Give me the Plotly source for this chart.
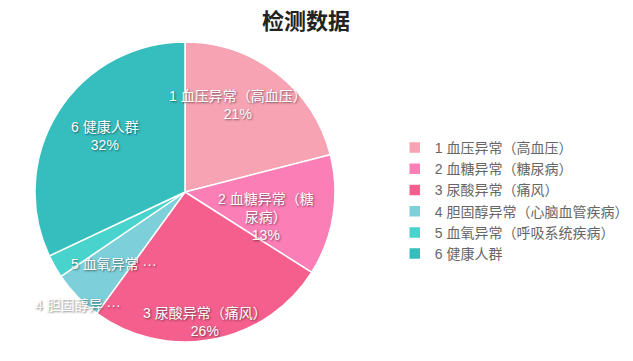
import plotly.graph_objects as go

labels = ["1 血压异常（高血压）", "2 血糖异常（糖尿病）", "3 尿酸异常（痛风）",
          "4 胆固醇异常（心脑血管疾病）", "5 血氧异常（呼吸系统疾病）", "6 健康人群"]
values = [21, 13, 26, 5.5, 2.5, 32]
slice_text = ["1 血压异常（高血压）", "2 血糖异常（糖<br>尿病）", "3 尿酸异常（痛风）",
              "4 胆固醇异 ···", "5 血氧异常 ···", "6 健康人群"]
show_percent = [True, True, True, False, False, True]
colors = ["#f7a3b3", "#fb7eb6", "#f45f8e", "#7dcfd9", "#49d3cd", "#36bdbd"]

FONT = "Liberation Sans, Noto Sans CJK SC, sans-serif"
W, H = 633, 361

fig = go.Figure(go.Pie(
    labels=labels, values=values,
    textinfo="none",
    sort=False, direction="clockwise", rotation=0,
    marker=dict(colors=colors, line=dict(color="white", width=1.5)),
    domain=dict(x=[27/W, 327/W], y=[27/H, 327/H]),
    hoverinfo="label+percent",
))

# label anchor points (pixel centres) for each slice's text
label_pos = [(230, 97), (258, 209), (197, 314), (25, 297), (61, 256), (97, 128)]
label_anchor = ["center", "center", "center", "left", "left", "center"]

total = sum(values)
for txt, v, showp, (px, py), anc in zip(slice_text, values, show_percent, label_pos, label_anchor):
    s = f"{txt}<br>{round(v / total * 100)}%" if showp else txt
    fig.add_annotation(text=s, x=px / W, y=1 - py / H, xref="paper", yref="paper",
                       xanchor=anc, yanchor="middle", showarrow=False, align="center",
                       font=dict(color="white", size=14, family=FONT,
                                 shadow="1px 1px 2px rgba(0,0,0,0.5)"))

fig.update_layout(
    width=W, height=H,
    margin=dict(l=0, r=0, t=0, b=0),
    paper_bgcolor="white",
    title=dict(text="检测数据", x=298 / W, xanchor="center", y=1 - 13 / H, yanchor="middle",
               font=dict(size=22, color="#222", family=FONT, weight="bold")),
    legend=dict(x=0.611, xanchor="left", y=1 - 193 / H, yanchor="middle",
                font=dict(size=14, color="#666", family=FONT),
                bgcolor="rgba(0,0,0,0)"),
)

fig.write_html("out.html")
